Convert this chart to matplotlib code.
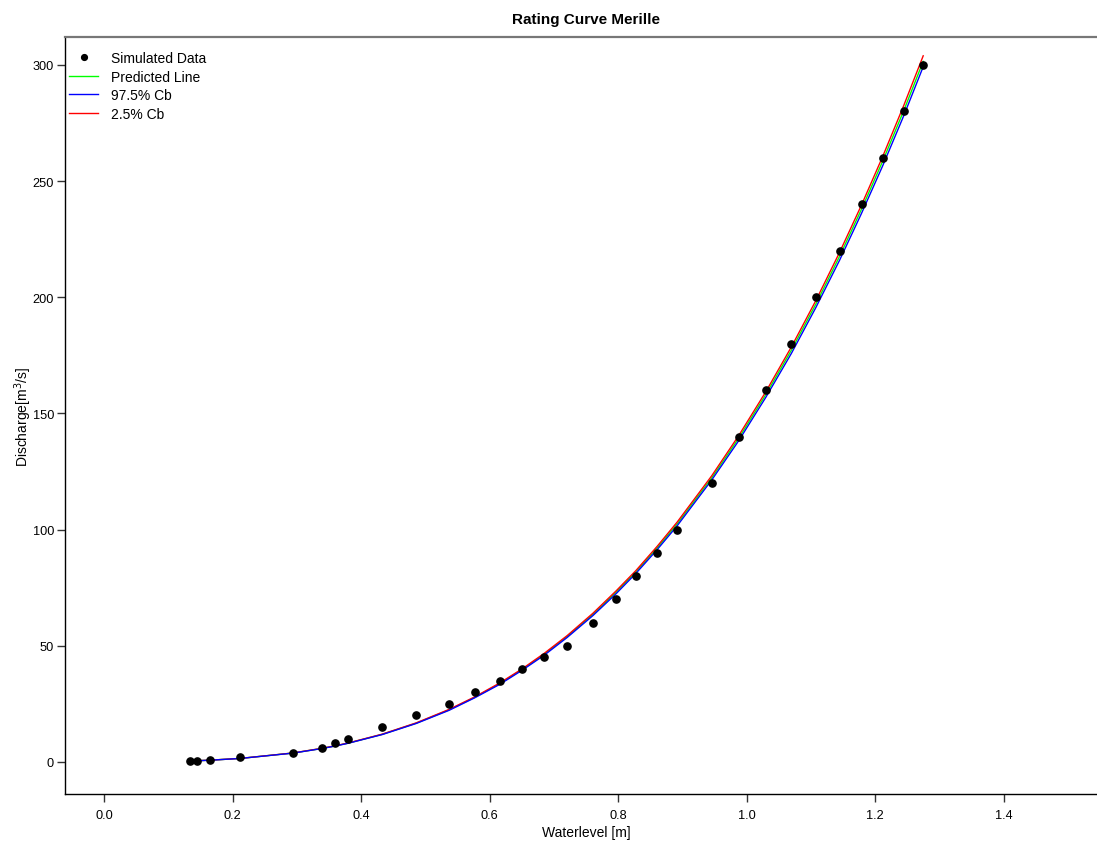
import matplotlib
matplotlib.use("Agg")
import matplotlib.pyplot as plt

plt.rcParams['font.family'] = ['Liberation Sans', 'DejaVu Sans']

# Simulated data
waterlevel = [0.134, 0.145, 0.165, 0.212, 0.294, 0.339, 0.360, 0.380, 0.433, 0.486,
              0.537, 0.577, 0.616, 0.651, 0.685, 0.721, 0.761, 0.797, 0.828, 0.861,
              0.892, 0.946, 0.988, 1.030, 1.070, 1.108, 1.145, 1.179, 1.212, 1.245, 1.275]
discharge = [0.3, 0.5, 1, 2, 4, 6, 8, 10, 15, 20,
             25, 30, 35, 40, 45, 50, 60, 70, 80, 90,
             100, 120, 140, 160, 180, 200, 220, 240, 260, 280, 300]

# Fitted curves evaluated at the water levels
predicted = [0.43, 0.53, 0.75, 1.51, 3.83, 5.80, 6.91, 8.09, 11.87, 16.69,
             22.4, 27.8, 33.7, 39.8, 46.3, 54.0, 63.5, 73.0, 81.8, 92.1,
             102.4, 122.3, 139.4, 158.1, 177.3, 197.1, 217.7, 237.9, 258.6, 280.5, 301.5]
upper_cb = [0.42, 0.52, 0.74, 1.50, 3.80, 5.75, 6.86, 8.03, 11.78, 16.56,
            22.2, 27.6, 33.4, 39.5, 45.9, 53.6, 63.0, 72.4, 81.2, 91.4,
            101.6, 121.4, 138.3, 156.9, 175.9, 195.6, 216.0, 236.1, 256.6, 278.3, 299.2]
lower_cb = [0.44, 0.54, 0.76, 1.52, 3.86, 5.85, 6.96, 8.15, 11.96, 16.82,
            22.6, 28.0, 34.0, 40.1, 46.7, 54.4, 64.0, 73.6, 82.4, 92.8,
            103.2, 123.2, 140.5, 159.3, 178.7, 198.6, 219.4, 239.7, 260.6, 282.7, 303.9]

xticks = [0.0, 0.2, 0.4, 0.6, 0.8, 1.0, 1.2, 1.4]
yticks = [0, 50, 100, 150, 200, 250, 300]

fig = plt.figure(figsize=(10.97, 8.45), dpi=100)
ax = fig.add_axes([65/1097, 50/845, 1 - 65/1097 + 0.01, (795-38)/845])

l_pred, = ax.plot(waterlevel, predicted, color='#00ff00', lw=1.0, zorder=2)
l_low, = ax.plot(waterlevel, lower_cb, color='#ff0000', lw=1.0, zorder=2)
l_up, = ax.plot(waterlevel, upper_cb, color='#0000ff', lw=1.0, zorder=2)
pts, = ax.plot(waterlevel, discharge, 'o', color='black', ms=5.2, zorder=3, ls='none')

ax.set_xlim(-0.0607, 1.5455 + 0.01 * 1097 / 642.5)
ax.set_ylim(-13.8, 312)
ax.set_xticks(xticks)
ax.set_xticklabels([f"{t:.1f}" for t in xticks])
ax.set_yticks(yticks)
ax.tick_params(direction='out', length=6, width=1, labelsize=9.2, color='#333333', pad=4.5)
ax.tick_params(axis='y', pad=2)

ax.spines['right'].set_visible(False)
ax.spines['left'].set_color('black')
ax.spines['bottom'].set_color('black')
ax.spines['left'].set_linewidth(1.0)
ax.spines['bottom'].set_linewidth(1.0)
ax.spines['top'].set_color('#777777')
ax.spines['top'].set_linewidth(1.6)

ax.set_xlabel('Waterlevel [m]', fontsize=10, labelpad=3)
ax.set_ylabel('Discharge[m$^3$/s]', fontsize=10, labelpad=-1)
ax.set_title('Rating Curve Merille', fontsize=11, fontweight='bold', pad=10)

ax.legend([pts, l_pred, l_up, l_low],
          ['Simulated Data', 'Predicted Line', '97.5% Cb', '2.5% Cb'],
          loc='upper left', frameon=False, fontsize=10, handlelength=2.1,
          handletextpad=0.9, labelspacing=0.33, borderaxespad=0.0,
          bbox_to_anchor=(0.0, 0.987), borderpad=0.3, markerscale=0.8)

fig.savefig('out.png', dpi=100)
